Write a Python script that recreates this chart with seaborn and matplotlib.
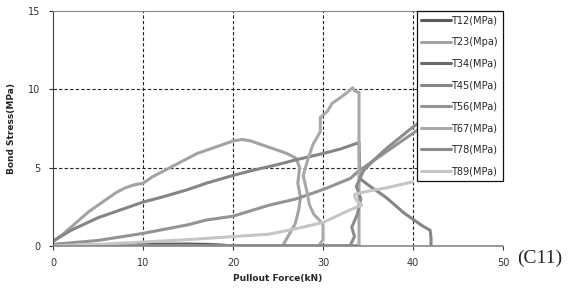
import matplotlib
matplotlib.use("Agg")
import matplotlib.pyplot as plt
import seaborn as sns
import pandas as pd

# -----------------------------
# Data (force kN, bond stress MPa)
# -----------------------------
labels = ["T12(MPa)", "T23(Mpa)", "T34(MPa)", "T45(MPa)",
          "T56(MPa)", "T67(MPa)", "T78(MPa)", "T89(MPa)"]
colors = ["#5a5a5a", "#a3a3a3", "#6a6a6a", "#858585",
          "#939393", "#a9a9a9", "#8c8c8c", "#c6c6c6"]

t12_x = [0, 3, 6, 9, 12, 15, 17, 19, 19.5]
t12_y = [0, 0.03, 0.06, 0.09, 0.11, 0.12, 0.1, 0.05, 0]

t23_x = [0, 1, 2, 3, 4, 5, 6, 7, 8, 9, 10, 11, 12, 13, 14, 15, 16, 17, 18, 19, 20, 21,
         22, 23, 24, 25, 26, 27, 27.4, 27.2, 27.5, 27.3, 26.9, 26.3, 25.6]
t23_y = [0.3, 0.7, 1.2, 1.7, 2.2, 2.6, 3.0, 3.4, 3.7, 3.9, 4.0, 4.4, 4.7, 5.0, 5.3, 5.6, 5.9, 6.1, 6.3, 6.5, 6.7, 6.8,
         6.7, 6.5, 6.3, 6.1, 5.9, 5.6, 5.0, 4.0, 3.1, 2.3, 1.4, 0.8, 0.1]

t34_x = [0, 5, 10, 15, 20, 25, 30, 34]
t34_y = [0, 0.01, 0.02, 0.03, 0.02, 0.01, 0, 0]

t45_x = [0, 2, 5, 8, 10, 12, 15, 17, 20, 22, 25, 27, 30, 32, 34, 34.1, 35, 36, 37, 38, 39, 40, 41, 41.9, 42, 42]
t45_y = [0.3, 1.0, 1.8, 2.4, 2.8, 3.1, 3.6, 4.0, 4.5, 4.8, 5.2, 5.5, 5.9, 6.2, 6.6, 4.3, 3.9, 3.5, 3.1, 2.6, 2.1, 1.7, 1.3, 1.0, 0.5, 0]

t56_x = [0, 5, 10, 15, 17, 20, 24, 27, 30, 33, 34, 36, 38, 40, 41]
t56_y = [0.1, 0.35, 0.8, 1.35, 1.65, 1.9, 2.6, 3.0, 3.6, 4.3, 4.8, 5.6, 6.4, 7.2, 7.6]

t67_x = [0, 10, 20, 26, 29.5, 30, 30, 29, 28.5, 28.2, 27.8, 28.3, 28.9, 29.7, 29.7, 30.5,
         31, 32, 32.7, 33.3, 33.5, 34, 34, 34, 34, 34]
t67_y = [0, 0, 0, 0, 0, 0.4, 1.4, 2.0, 2.6, 3.5, 4.5, 5.5, 6.5, 7.3, 8.2, 8.6,
         9.1, 9.5, 9.8, 10.1, 9.9, 9.8, 7.0, 4.0, 1.0, 0]

t78_x = [0, 15, 30, 33, 33.5, 33.2, 33.8, 34.2, 33.7, 34.5, 35.5, 37, 38.5, 40, 41]
t78_y = [0, 0, 0, 0, 0.6, 1.2, 2.0, 3.0, 3.8, 4.8, 5.4, 6.2, 6.9, 7.6, 8.0]

t89_x = [0, 5, 10, 15, 20, 24, 27, 30, 33, 34.3, 33.6, 33.5, 35, 37, 40]
t89_y = [0, 0.1, 0.25, 0.4, 0.6, 0.75, 1.1, 1.5, 2.3, 2.6, 3.0, 3.3, 3.5, 3.7, 4.1]

series = [(t12_x, t12_y), (t23_x, t23_y), (t34_x, t34_y), (t45_x, t45_y),
          (t56_x, t56_y), (t67_x, t67_y), (t78_x, t78_y), (t89_x, t89_y)]

frames = []
for lab, (xs, ys) in zip(labels, series):
    frames.append(pd.DataFrame({"force": xs, "stress": ys, "series": lab}))
df = pd.concat(frames, ignore_index=True)

# -----------------------------
# Plot
# -----------------------------
sns.set_style("white")
plt.rcParams["font.family"] = ["Verdana", "DejaVu Sans"]

fig = plt.figure(figsize=(5.72, 2.90), dpi=100)
ax = fig.add_axes([0.0927, 0.152, 0.7867, 0.810])

sns.lineplot(data=df, x="force", y="stress", hue="series", hue_order=labels,
             palette=dict(zip(labels, colors)), units="series", estimator=None,
             sort=False, linewidth=2.2, ax=ax)

ax.set_xlim(0, 50)
ax.set_ylim(0, 15)
ax.set_xticks([0, 10, 20, 30, 40, 50])
ax.set_yticks([0, 5, 10, 15])
ax.tick_params(axis="both", labelsize=7, colors="#333333", length=3, direction="out",
               left=True, bottom=True)
ax.tick_params(axis="x", pad=6)
ax.tick_params(axis="y", pad=6)
for v in [10, 20, 30, 40]:
    ax.axvline(v, color="#222222", linestyle=(0, (3, 2)), linewidth=0.8, zorder=0)
for v in [5, 10]:
    ax.axhline(v, color="#222222", linestyle=(0, (3, 2)), linewidth=0.8, zorder=0)

ax.spines["right"].set_visible(False)
ax.spines["top"].set_color("#888888")
ax.spines["left"].set_color("#444444")
ax.spines["bottom"].set_color("#888888")
ax.spines["bottom"].set_linewidth(1.2)

ax.set_xlabel("Pullout Force(kN)", fontsize=6.5, fontweight="bold", labelpad=4)
ax.set_ylabel("Bond Stress(MPa)", fontsize=6.5, fontweight="bold", labelpad=9)

leg = ax.legend(loc="upper right", bbox_to_anchor=(1.0, 1.0), fontsize=7,
                frameon=True, fancybox=False, framealpha=1, edgecolor="#111111",
                handlelength=3.0, handletextpad=0.1, labelspacing=1.18,
                borderpad=0.5, borderaxespad=0)
leg.get_frame().set_linewidth(0.9)

fig.text(0.944, 0.11, "(C11)", fontsize=14, family="Liberation Serif",
         ha="center", va="center")

plt.savefig("out.png", dpi=100)
